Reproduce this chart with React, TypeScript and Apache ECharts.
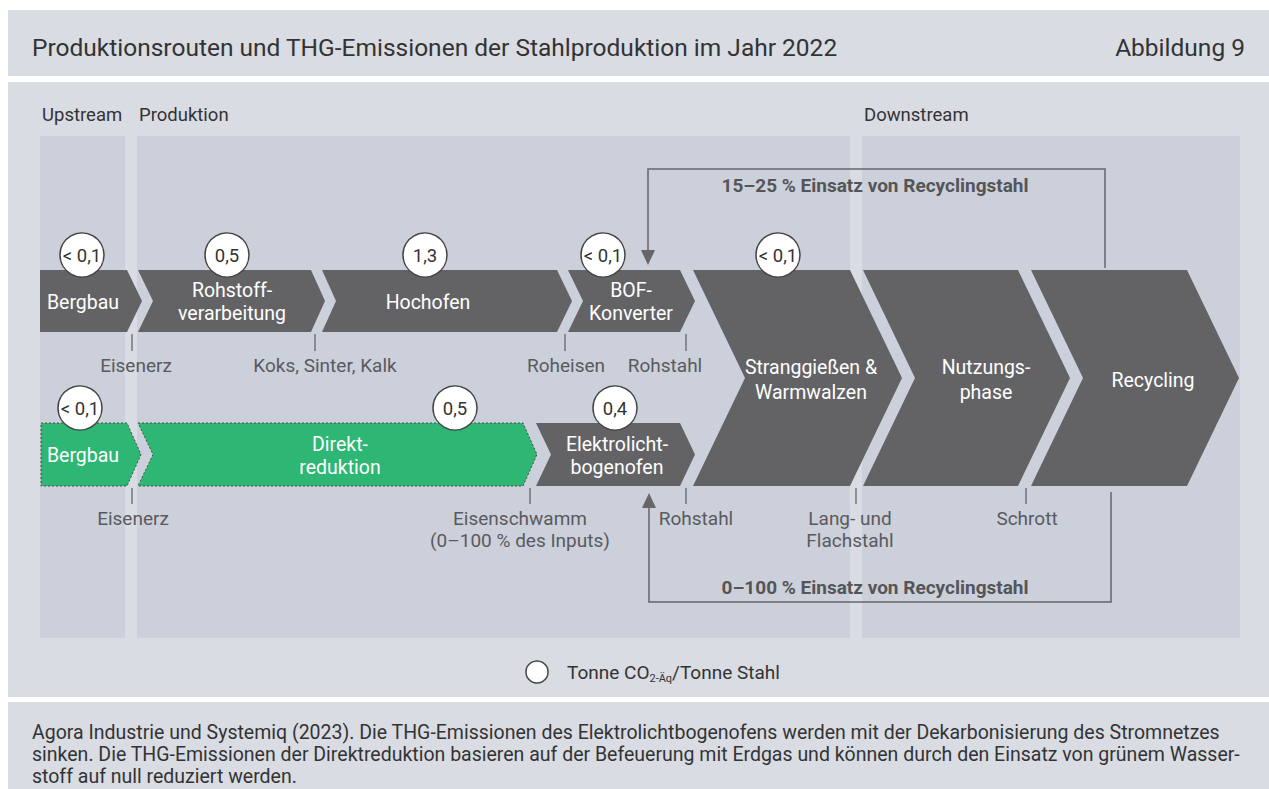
import React, { useEffect, useRef } from "react";
import * as echarts from "echarts";

// ---------- content ----------
const titleText = "Produktionsrouten und THG-Emissionen der Stahlproduktion im Jahr 2022";
const figureLabel = "Abbildung 9";
const sectionNames = ["Upstream", "Produktion", "Downstream"];
const topStages = ["Bergbau", "Rohstoff-\nverarbeitung", "Hochofen", "BOF-\nKonverter"];
const topEmissions = ["< 0,1", "0,5", "1,3", "< 0,1"];
const bottomStages = ["Bergbau", "Direkt-\nreduktion", "Elektrolicht-\nbogenofen"];
const bottomEmissions = ["< 0,1", "0,5", "0,4"];
const downstreamStages = ["Stranggießen &\nWarmwalzen", "Nutzungs-\nphase", "Recycling"];
const downstreamEmissions = ["< 0,1"];
const topMaterials = ["Eisenerz", "Koks, Sinter, Kalk", "Roheisen", "Rohstahl"];
const bottomMaterials = ["Eisenerz", "Eisenschwamm\n(0–100 % des Inputs)", "Rohstahl", "Lang- und\nFlachstahl", "Schrott"];
const recyclingLabels = ["15–25 % Einsatz von Recyclingstahl", "0–100 % Einsatz von Recyclingstahl"];
const legendParts = ["Tonne CO", "2-Äq", "/Tonne Stahl"];
const footnoteLines = [
  "Agora Industrie und Systemiq (2023). Die THG-Emissionen des Elektrolichtbogenofens werden mit der Dekarbonisierung des Stromnetzes",
  "sinken. Die THG-Emissionen der Direktreduktion basieren auf der Befeuerung mit Erdgas und können durch den Einsatz von grünem Wasser-",
  "stoff auf null reduziert werden.",
];

// ---------- layout ----------
const FONT = "Roboto, 'Open Sans', sans-serif";
const C = {
  panel: "#d9dce3",
  section: "#ccd0da",
  dark: "#636366",
  green: "#2db674",
  text: "#333333",
  mat: "#5a5a5e",
  line: "#666669",
};
const sectionRects = [
  [40, 125],
  [137, 850],
  [862, 1240],
];
const sectionTop = 136;
const sectionBottom = 638;
// [x0, x1, depthIn, depthOut, labelX, circleX]
const topLayout = [
  [40, 127, 0, 15, 83, 82],
  [138, 311, 15, 14, 232, 227],
  [322, 557, 14, 15, 428, 425],
  [568, 680, 15, 15, 631, 603],
];
const bottomLayout = [
  [41, 127, 0, 14, 83, 80],
  [138, 523, 15, 14, 340, 455],
  [536, 680, 15, 15, 617, 615],
];
const bigLayout = [
  [693, 850, 52, 52, 811, 778],
  [863, 1018, 52, 52, 986, 0],
  [1031, 1187, 52, 52, 1153, 0],
];
const topRow = [270, 332];
const bottomRow = [423, 486];
const bigRow = [270, 486];
// [tickX, labelX]
const topMatLayout = [
  [132, 136],
  [315, 325],
  [565, 566],
  [686, 665],
];
const bottomMatLayout = [
  [132, 133],
  [530, 520],
  [686, 696],
  [856, 850],
  [1026, 1027],
];

function chevron(x0: number, x1: number, y0: number, y1: number, dIn: number, dOut: number) {
  const m = (y0 + y1) / 2;
  return [
    [x0, y0],
    [x1, y0],
    [x1 + dOut, m],
    [x1, y1],
    [x0, y1],
    [x0 + dIn, m],
  ];
}

function txt(x: number, y: number, text: string, opts: any = {}) {
  return {
    type: "text",
    x,
    y,
    z: 10,
    style: {
      text,
      fill: opts.fill || C.text,
      fontSize: opts.size || 19,
      fontFamily: FONT,
      fontWeight: opts.weight || "normal",
      align: opts.align || "center",
      verticalAlign: "middle",
      lineHeight: opts.lh || 22,
    },
  };
}

function circle(cx: number, cy: number, label: string) {
  return [
    {
      type: "circle",
      z: 8,
      shape: { cx, cy, r: 22 },
      style: { fill: "#ffffff", stroke: "#444446", lineWidth: 1.5 },
    },
    txt(cx, cy + 1, label, { size: 18.5, fill: "#333" }),
  ];
}

function buildElements() {
  const els: any[] = [];
  // panels
  els.push({ type: "rect", shape: { x: 0, y: 0, width: 1269, height: 789 }, style: { fill: "#ffffff" } });
  els.push({ type: "rect", shape: { x: 8, y: 10, width: 1261, height: 66 }, style: { fill: C.panel } });
  els.push({ type: "rect", shape: { x: 8, y: 82, width: 1261, height: 615 }, style: { fill: C.panel } });
  els.push({ type: "rect", shape: { x: 8, y: 702, width: 1261, height: 87 }, style: { fill: C.panel } });
  els.push(txt(32, 47, titleText, { align: "left", size: 24.5 }));
  els.push(txt(1245, 47, figureLabel, { align: "right", size: 24.5 }));

  // sections
  sectionRects.forEach(([a, b], i) => {
    els.push({
      type: "rect",
      shape: { x: a, y: sectionTop, width: b - a, height: sectionBottom - sectionTop },
      style: { fill: C.section },
    });
    els.push(txt(a + 2, 115, sectionNames[i], { align: "left", size: 18.5 }));
  });

  // top row
  topLayout.forEach(([x0, x1, dIn, dOut, lx, cx], i) => {
    els.push({
      type: "polygon",
      z: 5,
      shape: { points: chevron(x0, x1, topRow[0], topRow[1], dIn, dOut) },
      style: { fill: C.dark },
    });
    els.push(txt(lx, (topRow[0] + topRow[1]) / 2 + 1, topStages[i], { fill: "#ffffff", size: 19.5, lh: 23 }));
    els.push(...circle(cx, 255, topEmissions[i]));
  });
  // bottom row
  bottomLayout.forEach(([x0, x1, dIn, dOut, lx, cx], i) => {
    const green = i < 2;
    els.push({
      type: "polygon",
      z: 5,
      shape: { points: chevron(x0, x1, bottomRow[0], bottomRow[1], dIn, dOut) },
      style: green
        ? { fill: C.green, stroke: "#4a4a4a", lineWidth: 1, lineDash: [2, 2] }
        : { fill: C.dark },
    });
    els.push(txt(lx, (bottomRow[0] + bottomRow[1]) / 2 + 1, bottomStages[i], { fill: "#ffffff", size: 19.5, lh: 23 }));
    els.push(...circle(cx, 408, bottomEmissions[i]));
  });
  // downstream big chevrons
  bigLayout.forEach(([x0, x1, dIn, dOut, lx, cx], i) => {
    els.push({
      type: "polygon",
      z: 5,
      shape: { points: chevron(x0, x1, bigRow[0], bigRow[1], dIn, dOut) },
      style: { fill: C.dark },
    });
    els.push(txt(lx, (bigRow[0] + bigRow[1]) / 2 + 2, downstreamStages[i], { fill: "#ffffff", size: 19.5, lh: 25 }));
    if (downstreamEmissions[i]) els.push(...circle(cx, 255, downstreamEmissions[i]));
  });

  // material labels + ticks
  topMatLayout.forEach(([tx, lx], i) => {
    els.push({ type: "line", z: 6, shape: { x1: tx, y1: 334, x2: tx, y2: 351 }, style: { stroke: C.line, lineWidth: 1.3 } });
    els.push(txt(lx, 365, topMaterials[i], { fill: C.mat }));
  });
  bottomMatLayout.forEach(([tx, lx], i) => {
    els.push({ type: "line", z: 6, shape: { x1: tx, y1: 488, x2: tx, y2: 504 }, style: { stroke: C.line, lineWidth: 1.3 } });
    const t = txt(lx, 519, bottomMaterials[i], { fill: C.mat });
    t.style.verticalAlign = "top";
    t.y = 507;
    els.push(t);
  });

  // recycling loops
  els.push({
    type: "polyline",
    z: 6,
    shape: { points: [[1105, 268], [1105, 169], [648, 169], [648, 252]] },
    style: { stroke: C.line, lineWidth: 1.5, fill: null },
  });
  els.push({ type: "polygon", z: 6, shape: { points: [[641, 250], [655, 250], [648, 265]] }, style: { fill: C.line } });
  els.push(txt(875, 185, recyclingLabels[0], { weight: "bold", fill: "#555558" }));

  els.push({
    type: "polyline",
    z: 6,
    shape: { points: [[1111, 492], [1111, 602], [649, 602], [649, 508]] },
    style: { stroke: C.line, lineWidth: 1.5, fill: null },
  });
  els.push({ type: "polygon", z: 6, shape: { points: [[642, 508], [656, 508], [649, 493]] }, style: { fill: C.line } });
  els.push(txt(875, 587, recyclingLabels[1], { weight: "bold", fill: "#555558" }));

  // legend
  els.push({
    type: "circle",
    z: 8,
    shape: { cx: 537, cy: 672, r: 11 },
    style: { fill: "#ffffff", stroke: "#444446", lineWidth: 1.5 },
  });
  els.push({
    type: "text",
    x: 567,
    y: 672,
    z: 10,
    style: {
      text: `{a|${legendParts[0]}}{b|${legendParts[1]}}{a|${legendParts[2]}}`,
      align: "left",
      verticalAlign: "middle",
      fill: C.text,
      fontFamily: FONT,
      fontSize: 19,
      rich: {
        a: { fontSize: 19, fontFamily: FONT, fill: C.text, lineHeight: 24 },
        b: { fontSize: 11, fontFamily: FONT, fill: C.text, verticalAlign: "bottom", lineHeight: 24 },
      },
    },
  });

  // footnote
  footnoteLines.forEach((l, i) => {
    els.push(txt(32, 732 + i * 22, l, { align: "left", fill: "#333", size: 19.5 }));
  });
  return els;
}

export default function App() {
  const ref = useRef<HTMLDivElement>(null);
  useEffect(() => {
    document.body.style.margin = "0";
    const chart = echarts.init(ref.current!, null, { renderer: "svg" });
    chart.setOption({
      animation: false,
      backgroundColor: "#ffffff",
      graphic: { elements: buildElements() },
    });
    return () => chart.dispose();
  }, []);
  return <div ref={ref} style={{ width: 1269, height: 789 }} />;
}
